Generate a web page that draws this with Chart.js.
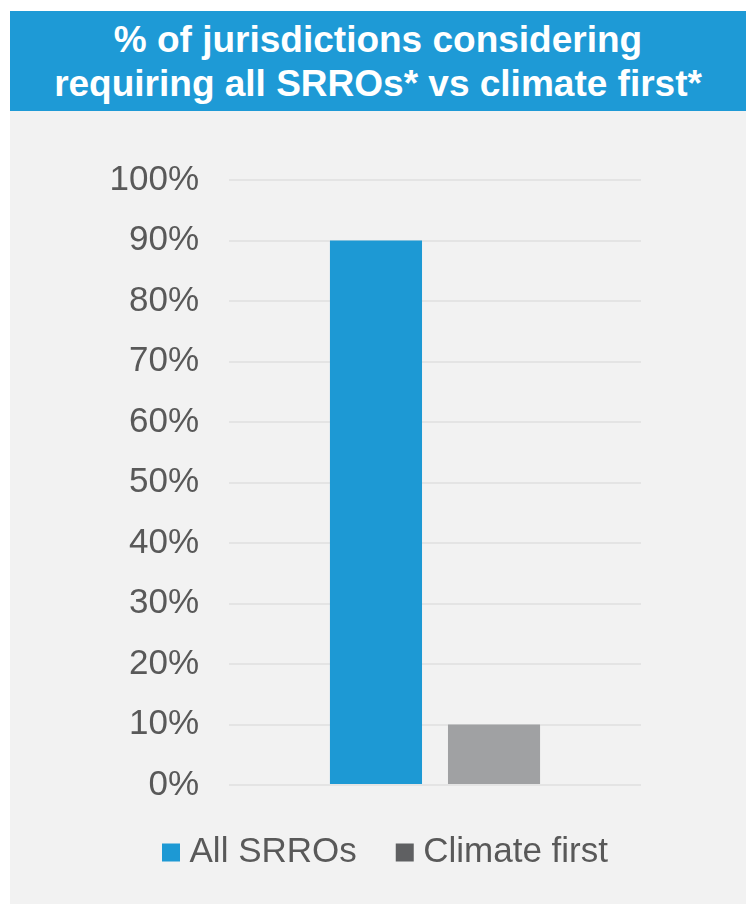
<!DOCTYPE html>
<html>
<head>
<meta charset="utf-8">
<script src="https://cdn.jsdelivr.net/npm/chart.js@4"></script>
<style>
  html, body { margin: 0; padding: 0; background: #fff; overflow: hidden; }
  body { width: 746px; height: 904px; position: relative; font-family: "Liberation Sans", Arial, sans-serif; }
  #banner {
    position: absolute; left: 10px; top: 11px; width: 736px; height: 100px;
    background: #1E9AD6; color: #fff; font-weight: bold; font-size: 37px;
    line-height: 44px; text-align: center; box-sizing: border-box; padding-top: 7px;
  }
  #panel { position: absolute; left: 10px; top: 111px; width: 736px; height: 793px; background: #F2F2F2; }
  #wrap { position: absolute; left: 0; top: 111px; width: 746px; height: 773px; }
</style>
</head>
<body>
<div id="banner">% of jurisdictions considering<br>requiring all SRROs* vs climate first*</div>
<div id="panel"></div>
<div id="wrap"><canvas id="barChart"></canvas></div>
<script>
const categories = [''];
const seriesNames = ['All SRROs', 'Climate first'];
const allSrros = [90];
const climateFirst = [10];
const barColors = ['#1D99D4', '#A0A1A3'];
const legendColors = ['#1D99D4', '#5F6062'];

document.addEventListener('DOMContentLoaded', function() {
    const ctx = document.getElementById('barChart').getContext('2d');
    new Chart(ctx, {
        type: 'bar',
        data: {
            labels: categories,
            datasets: [{
                label: seriesNames[0],
                data: allSrros,
                backgroundColor: barColors[0],
            }, {
                label: seriesNames[1],
                data: climateFirst,
                backgroundColor: barColors[1],
            }]
        },
        options: {
            responsive: true,
            maintainAspectRatio: false,
            animation: false,
            categoryPercentage: 0.573,
            barPercentage: 0.78,
            layout: {
                padding: { top: 69, left: 32, right: 0, bottom: 4 }
            },
            scales: {
                x: {
                    grid: { display: false },
                    border: { display: false },
                    ticks: { display: false },
                    afterFit: function(scale) { scale.height = 3; }
                },
                y: {
                    min: 0,
                    max: 100,
                    afterFit: function(scale) { scale.width = 197; },
                    grid: { color: '#E4E4E4', lineWidth: 2, drawTicks: false },
                    border: { display: false },
                    ticks: {
                        stepSize: 10,
                        padding: 30,
                        color: '#595959',
                        font: { family: 'Liberation Sans', size: 35 },
                        callback: value => value + '%'
                    }
                },
                // empty right-hand axis, only keeps the plot area narrow
                yRight: {
                    position: 'right',
                    grid: { display: false },
                    border: { display: false },
                    ticks: { display: false },
                    afterFit: function(scale) { scale.width = 105; }
                }
            },
            plugins: {
                tooltip: { enabled: false },
                legend: {
                    position: 'bottom',
                    labels: {
                        usePointStyle: true,
                        pointStyle: 'rect',
                        boxWidth: 2,
                        boxHeight: 18,
                        padding: 47,
                        color: '#595959',
                        font: { family: 'Liberation Sans', size: 35 },
                        generateLabels: function(chart) {
                            const items = Chart.defaults.plugins.legend.labels.generateLabels(chart);
                            items.forEach((item, i) => {
                                item.fillStyle = legendColors[i];
                                item.strokeStyle = legendColors[i];
                                item.lineWidth = 0;
                            });
                            return items;
                        }
                    }
                }
            }
        }
    });
});
</script>
</body>
</html>
